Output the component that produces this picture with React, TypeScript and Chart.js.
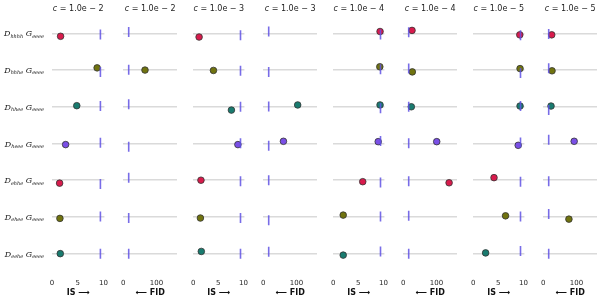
import React, { useEffect, useRef } from 'react';
import { Chart, registerables } from 'chart.js';

Chart.register(...registerables);

// ---------- data ----------
const ROW_SUBS = ['hhhh', 'hhhe', 'hhee', 'heee', 'ehhe', 'ehee', 'eehe'];
const G_SUB = 'eeee';
const ROW_COLORS = ['#d81b4c', '#70730f', '#197b6f', '#7a4fe6', '#d81b4c', '#70730f', '#197b6f'];

const C_LABELS = ['1.0e − 2', '1.0e − 2', '1.0e − 3', '1.0e − 3', '1.0e − 4', '1.0e − 4', '1.0e − 5', '1.0e − 5'];
const METRICS = ['IS', 'FID', 'IS', 'FID', 'IS', 'FID', 'IS', 'FID'];
const AXIS_TITLES: Record<string, string> = { IS: 'IS ⟶', FID: '⟵ FID' };

const IS_TICKS = [0, 5, 10];
const FID_TICKS = [0, 100];
const IS_MAX = 10.2;
const FID_MAX = 162;
const IS_REF = 9.42;
const FID_REF = 16.5;

const IS_C2 = [1.67, 8.78, 4.82, 2.65, 1.48, 1.54, 1.61];
const FID_C2 = [null, 65.6, null, null, null, null, null];
const IS_C3 = [1.17, 4.03, 7.61, 8.9, 1.54, 1.43, 1.61];
const FID_C3 = [null, null, 103.8, 60.9, null, null, null];
const IS_C4 = [9.33, 9.28, 9.33, 8.96, 5.88, 1.99, 1.99];
const FID_C4 = [26.5, 27.4, 24.4, 100.9, 138.2, null, null];
const IS_C5 = [9.28, 9.33, 9.33, 8.96, 4.14, 6.44, 2.47];
const FID_C5 = [25.6, 26.5, 23.5, 93.2, null, 77.4, null];

const PANEL_VALUES: (number | null)[][] = [IS_C2, FID_C2, IS_C3, FID_C3, IS_C4, FID_C4, IS_C5, FID_C5];

// vertical jitter (in row units)
const DOT_JITTER = [
  [0.08, -0.06, -0.03, 0.03, 0.08, 0.04, 0.0],
  [0, 0.0, 0, 0, 0, 0, 0],
  [0.1, 0.01, 0.09, 0.03, 0.0, 0.03, -0.06],
  [0, 0, -0.05, -0.06, 0, 0, 0],
  [-0.05, -0.09, -0.05, -0.05, 0.04, -0.05, 0.04],
  [-0.08, 0.05, 0.0, -0.05, 0.07, 0, 0],
  [0.04, -0.04, -0.02, 0.05, -0.07, -0.03, -0.02],
  [0.04, 0.02, -0.02, -0.06, 0, 0.06, 0],
];
const REF_JITTER = [
  [0.03, 0.05, -0.02, -0.02, 0.1, -0.01, 0.0],
  [-0.04, -0.01, -0.07, 0.09, -0.07, 0.03, 0.0],
  [0.05, 0.02, 0.0, -0.01, 0.03, 0.03, 0.0],
  [-0.05, 0.05, -0.01, 0.06, 0.0, 0.09, -0.05],
  [0.03, -0.02, 0.04, -0.07, 0.06, -0.01, -0.06],
  [-0.03, -0.04, 0.0, -0.01, 0.03, -0.03, 0.0],
  [0.05, 0.08, -0.02, -0.03, 0.04, -0.01, -0.07],
  [0.02, -0.05, 0.09, -0.1, 0.03, -0.08, 0.0],
];

// ---------- layout ----------
const H = 303;
const FIRST_LEFT = 52;
const STEP = 70;
const PANEL_W = 55;
const PAD_L = 8;
const PAD_R = 8;
const TICK_COLOR = 'rgba(96, 82, 228, 0.85)';
const FONT = '"DejaVu Sans", sans-serif';

const titlePlugin = {
  id: 'panelTitle',
  afterDraw(chart: any) {
    const text = chart.options.plugins.panelTitle.text;
    const { left, right } = chart.chartArea;
    const cx = (left + right) / 2;
    const ctx = chart.ctx;
    ctx.save();
    ctx.fillStyle = '#222';
    ctx.textBaseline = 'middle';
    ctx.textAlign = 'left';
    ctx.font = `italic 8px ${FONT}`;
    const w1 = ctx.measureText('c').width;
    ctx.font = `8px ${FONT}`;
    const rest = ' = ' + text;
    const w2 = ctx.measureText(rest).width;
    const x = cx - (w1 + w2) / 2;
    ctx.font = `italic 8px ${FONT}`;
    ctx.fillText('c', x, 9);
    ctx.font = `8px ${FONT}`;
    ctx.fillText(rest, x + w1, 9);
    ctx.restore();
  },
};

const rowLabelPlugin = {
  id: 'rowLabels',
  afterDraw(chart: any) {
    const ctx = chart.ctx;
    const ys = chart.scales.y;
    const big = 'italic 8px "DejaVu Serif", serif';
    const small = 'italic 5px "DejaVu Serif", serif';
    ctx.save();
    ctx.fillStyle = '#111';
    ctx.textAlign = 'left';
    ctx.textBaseline = 'alphabetic';
    ROW_SUBS.forEach((sub, i) => {
      const py = ys.getPixelForValue(i);
      ctx.font = big;
      const wD = ctx.measureText('D').width;
      const wG = ctx.measureText('G').width;
      ctx.font = small;
      const wS1 = ctx.measureText(sub).width;
      const wS2 = ctx.measureText(G_SUB).width;
      const gap = 2.5;
      const total = wD + wS1 + gap + wG + wS2;
      let x = 44 - total;
      ctx.font = big;
      ctx.fillText('D', x, py + 3);
      x += wD;
      ctx.font = small;
      ctx.fillText(sub, x, py + 4.3);
      x += wS1 + gap;
      ctx.font = big;
      ctx.fillText('G', x, py + 3);
      x += wG;
      ctx.font = small;
      ctx.fillText(G_SUB, x, py + 4.3);
    });
    ctx.restore();
  },
};

function Panel({ index }: { index: number }) {
  const ref = useRef<HTMLCanvasElement | null>(null);
  const isFirst = index === 0;
  const padL = isFirst ? FIRST_LEFT : PAD_L;
  const panelLeft = FIRST_LEFT + index * STEP;
  const canvasLeft = panelLeft - padL;
  const width = padL + PANEL_W + PAD_R;

  useEffect(() => {
    if (!ref.current) return;
    const metric = METRICS[index];
    const isIS = metric === 'IS';
    const values = PANEL_VALUES[index];
    const refVal = isIS ? IS_REF : FID_REF;

    const refPts = ROW_SUBS.map((_, i) => ({ x: refVal, y: i + REF_JITTER[index][i] }));
    const dotPts: { x: number; y: number }[] = [];
    const dotColors: string[] = [];
    values.forEach((v, i) => {
      if (v === null) return;
      dotPts.push({ x: v, y: i + DOT_JITTER[index][i] });
      dotColors.push(ROW_COLORS[i]);
    });
    const ticks = isIS ? IS_TICKS : FID_TICKS;

    const chart = new Chart(ref.current, {
      type: 'scatter',
      data: {
        datasets: [
          {
            label: 'reference',
            data: refPts,
            pointStyle: 'line',
            rotation: 90,
            pointRadius: 5,
            pointHoverRadius: 5,
            pointBorderColor: TICK_COLOR,
            borderColor: TICK_COLOR,
            pointBorderWidth: 1.6,
            borderWidth: 1.6,
            order: 0,
          } as any,
          {
            label: 'value',
            data: dotPts,
            pointStyle: 'circle',
            pointRadius: 3.3,
            pointHoverRadius: 3.3,
            pointBackgroundColor: dotColors,
            backgroundColor: dotColors,
            pointBorderColor: '#333',
            borderColor: '#333',
            pointBorderWidth: 0.8,
            borderWidth: 0.8,
            order: 1,
          } as any,
        ],
      },
      options: {
        animation: false,
        responsive: false,
        events: [],
        layout: { padding: { left: padL, right: PAD_R, top: 15, bottom: 0 } },
        plugins: {
          legend: { display: false },
          tooltip: { enabled: false },
          title: { display: false },
          panelTitle: { text: C_LABELS[index] },
        } as any,
        scales: {
          x: {
            type: 'linear',
            position: 'bottom',
            min: 0,
            max: isIS ? IS_MAX : FID_MAX,
            grid: { display: false, drawTicks: false },
            border: { display: false },
            ticks: {
              padding: 7,
              font: { size: 7, family: FONT },
              color: '#262626',
              maxRotation: 0,
              autoSkip: false,
            },
            afterBuildTicks: (s: any) => {
              s.ticks = ticks.map((v) => ({ value: v }));
            },
            afterFit: (s: any) => {
              s.height = 31;
            },
            title: {
              display: true,
              text: AXIS_TITLES[metric],
              font: { size: 8, weight: 'bold', family: FONT },
              color: '#111',
              padding: { top: 0, bottom: 5 },
            },
          },
          y: {
            type: 'linear',
            min: -0.5,
            max: 6.5,
            reverse: true,
            grid: { color: '#dadada', lineWidth: 1.5, drawTicks: false },
            border: { display: false },
            ticks: { display: false },
            afterBuildTicks: (s: any) => {
              s.ticks = ROW_SUBS.map((_, i) => ({ value: i }));
            },
            afterFit: (s: any) => {
              s.width = 0;
            },
          },
        } as any,
      },
      plugins: isFirst ? [titlePlugin, rowLabelPlugin] : [titlePlugin],
    });
    return () => chart.destroy();
  }, [index]);

  return (
    <canvas
      ref={ref}
      width={width}
      height={H}
      style={{ position: 'absolute', left: canvasLeft, top: 0, width, height: H }}
    />
  );
}

export default function App() {
  return (
    <div style={{ position: 'absolute', left: 0, top: 0, width: 601, height: H, background: '#fff' }}>
      {METRICS.map((_, i) => (
        <Panel key={i} index={i} />
      ))}
    </div>
  );
}
